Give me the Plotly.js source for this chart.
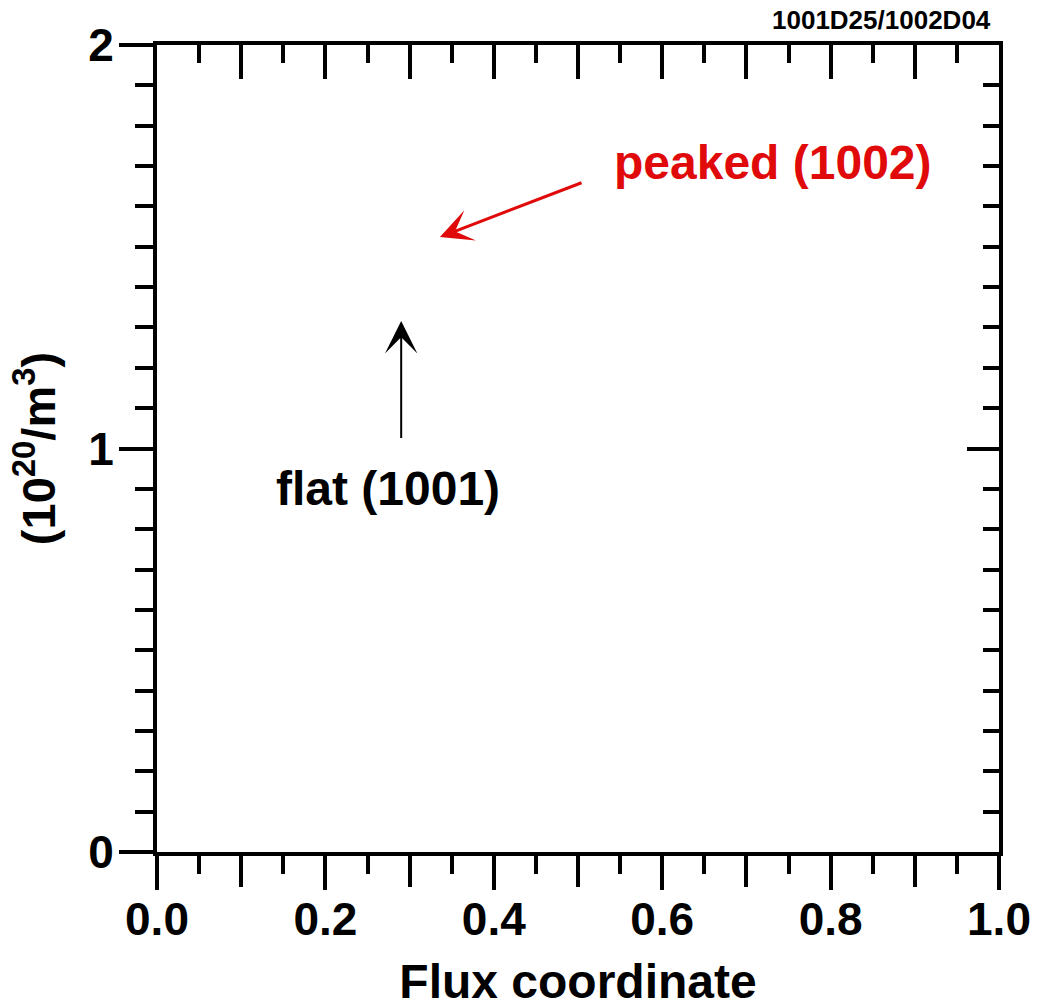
<!DOCTYPE html>
<html>
<head>
<meta charset="utf-8">
<script src="https://cdn.plot.ly/plotly-3.0.1.min.js"></script>
<style>html,body{margin:0;padding:0;background:#fff;}#chart{width:1038px;height:1008px;}</style>
</head>
<body>
<div id="chart"></div>
<script>
// Axis tick values and labels
const xLabelVals = [0, 0.2, 0.4, 0.6, 0.8, 1.0];
const xLabelText = ["0.0", "0.2", "0.4", "0.6", "0.8", "1.0"];
const xOddVals = [0.1, 0.3, 0.5, 0.7, 0.9];
const xAllVals = [0, 0.1, 0.2, 0.3, 0.4, 0.5, 0.6, 0.7, 0.8, 0.9, 1.0];
const yTickVals = [0, 1, 2];
const yTickText = ["0", "1", "2"];

// Annotation labels (text) and their anchor/arrow points in data units
const labelTexts = ["peaked (1002)", "flat (1001)"];
const labelColors = ["#e00a0a", "#000000"];
const labelX = [0.731, 0.274];
const labelY = [1.708, 0.902];
const arrowHeadX = [0.336, 0.290];
const arrowHeadY = [1.524, 1.316];
const arrowTailX = [0.506, 0.290];
const arrowTailY = [1.660, 1.021];
const runId = "1001D25/1002D04";

const FONT = "Liberation Sans, Arial, Helvetica, sans-serif";

const traces = [
  {x: [], y: [], type: 'scatter', mode: 'lines', xaxis: 'x', yaxis: 'y', showlegend: false, hoverinfo: 'skip'},
  {x: [], y: [], type: 'scatter', mode: 'lines', xaxis: 'x2', yaxis: 'y2', showlegend: false, hoverinfo: 'skip'},
  {x: [], y: [], type: 'scatter', mode: 'lines', xaxis: 'x3', yaxis: 'y', showlegend: false, hoverinfo: 'skip'}
];

const annotations = [];
for (let i = 0; i < labelTexts.length; i++) {
  annotations.push({
    x: labelX[i], y: labelY[i], xref: 'x', yref: 'y',
    text: labelTexts[i], showarrow: false,
    font: {family: FONT, size: 48, color: labelColors[i], weight: 'bold'},
    xanchor: 'center', yanchor: 'middle'
  });
  annotations.push({
    x: arrowHeadX[i], y: arrowHeadY[i], xref: 'x', yref: 'y',
    ax: arrowTailX[i], ay: arrowTailY[i], axref: 'x', ayref: 'y',
    text: '&nbsp;', showarrow: true,
    font: {family: FONT, size: 1, color: labelColors[i]},
    arrowhead: 3, arrowcolor: labelColors[i],
    arrowwidth: i === 0 ? 3 : 2,
    arrowsize: i === 0 ? 1.8 : 2.7
  });
}
annotations.push({
  x: 0.993, y: 1.031, xref: 'paper', yref: 'paper',
  text: runId, showarrow: false, xanchor: 'right', yanchor: 'middle',
  font: {family: FONT, size: 26, color: '#000', weight: 'bold'}
});

const tickStyle = {tickwidth: 4, tickcolor: '#000'};

const layout = {
  width: 1038, height: 1008,
  margin: {l: 157, r: 39, t: 45, b: 156, pad: 0},
  paper_bgcolor: '#fff', plot_bgcolor: '#fff',
  font: {family: FONT, color: '#000'},
  showlegend: false,
  xaxis: Object.assign({
    range: [0, 1], showgrid: false, zeroline: false,
    showline: true, linecolor: '#000', linewidth: 4,
    tickmode: 'array', tickvals: xLabelVals, ticktext: xLabelText,
    ticks: 'outside', ticklen: 34, ticklabelstandoff: -10,
    minor: {dtick: 0.05, tick0: 0, ticks: 'outside', ticklen: 18, tickwidth: 4, tickcolor: '#000', showgrid: false},
    tickfont: {family: FONT, size: 46, weight: 'bold', color: '#000'},
    title: {text: 'Flux coordinate', font: {family: FONT, size: 48, weight: 'bold', color: '#000'}, standoff: 23},
    fixedrange: true
  }, tickStyle),
  xaxis3: Object.assign({
    overlaying: 'x', side: 'bottom', matches: 'x', range: [0, 1],
    showgrid: false, zeroline: false, showline: false,
    tickmode: 'array', tickvals: xOddVals, showticklabels: false,
    ticks: 'outside', ticklen: 34,
    fixedrange: true
  }, tickStyle),
  xaxis2: Object.assign({
    overlaying: 'x', side: 'top', matches: 'x', range: [0, 1],
    showgrid: false, zeroline: false,
    showline: true, linecolor: '#000', linewidth: 4,
    tickmode: 'array', tickvals: xAllVals, showticklabels: false,
    ticks: 'inside', ticklen: 34,
    minor: {dtick: 0.05, tick0: 0, ticks: 'inside', ticklen: 18, tickwidth: 4, tickcolor: '#000', showgrid: false},
    fixedrange: true
  }, tickStyle),
  yaxis: Object.assign({
    range: [0, 2], showgrid: false, zeroline: false,
    showline: true, linecolor: '#000', linewidth: 4,
    tickmode: 'array', tickvals: yTickVals, ticktext: yTickText,
    ticks: 'outside', ticklen: 34, ticklabelstandoff: -4,
    minor: {dtick: 0.1, tick0: 0, ticks: 'outside', ticklen: 18, tickwidth: 4, tickcolor: '#000', showgrid: false},
    tickfont: {family: FONT, size: 46, weight: 'bold', color: '#000'},
    title: {text: '(10<sup>20</sup>/m<sup>3</sup>)', font: {family: FONT, size: 47, weight: 'bold', color: '#000'}, standoff: 19},
    fixedrange: true
  }, tickStyle),
  yaxis2: Object.assign({
    overlaying: 'y', side: 'right', matches: 'y', range: [0, 2],
    showgrid: false, zeroline: false,
    showline: true, linecolor: '#000', linewidth: 4,
    tickmode: 'array', tickvals: yTickVals, showticklabels: false,
    ticks: 'inside', ticklen: 32,
    minor: {dtick: 0.1, tick0: 0, ticks: 'inside', ticklen: 16, tickwidth: 4, tickcolor: '#000', showgrid: false},
    fixedrange: true
  }, tickStyle),
  annotations: annotations
};

Plotly.newPlot('chart', traces, layout, {staticPlot: true, displayModeBar: false});
</script>
</body>
</html>
